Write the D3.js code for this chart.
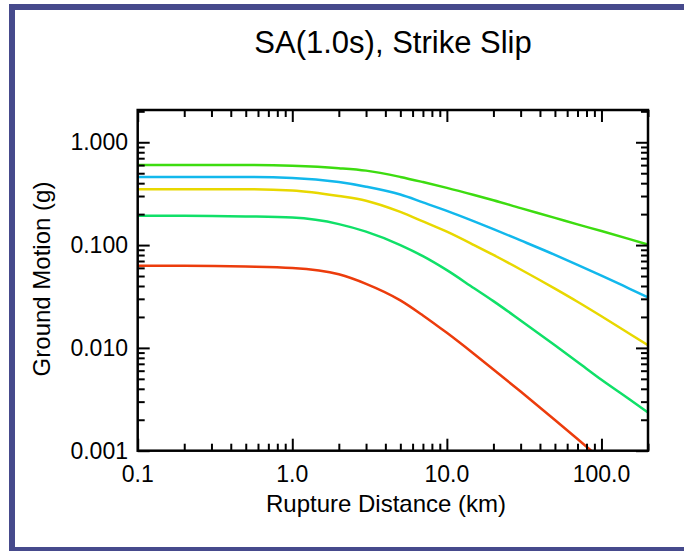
<!DOCTYPE html>
<html>
<head>
<meta charset="utf-8">
<script src="https://cdn.jsdelivr.net/npm/d3@7"></script>
<style>
  html, body { margin: 0; padding: 0; background: #fff; }
  svg { display: block; font-family: "Liberation Sans", Arial, sans-serif; }
</style>
</head>
<body>
<script>
// rupture distance (km), shared by every curve
var distances = [0.1, 0.2, 0.5, 1, 2, 3, 5, 7, 10, 15, 20, 30, 50, 70, 100, 150, 200];

// ground motion (g)
var limeValues   = [0.60, 0.60, 0.60, 0.59, 0.56, 0.53, 0.46, 0.41, 0.36, 0.307, 0.273, 0.229, 0.184, 0.159, 0.137, 0.115, 0.101];
var blueValues   = [0.46, 0.46, 0.46, 0.45, 0.41, 0.37, 0.31, 0.26, 0.215, 0.170, 0.143, 0.111, 0.0803, 0.0643, 0.0505, 0.038, 0.031];
var yellowValues = [0.35, 0.35, 0.35, 0.34, 0.30, 0.27, 0.21, 0.17, 0.135, 0.100, 0.0801, 0.0579, 0.0377, 0.0281, 0.0203, 0.0139, 0.0106];
var greenValues  = [0.193, 0.193, 0.19, 0.185, 0.16, 0.135, 0.10, 0.078, 0.057, 0.038, 0.0285, 0.0185, 0.0106, 0.0073, 0.0049, 0.0032, 0.00235];
var redValues    = [0.063, 0.063, 0.062, 0.060, 0.052, 0.042, 0.029, 0.0207, 0.0140, 0.00872, 0.00617, 0.00376, 0.00199, 0.0013, 0.00082, 0.00049, 0.00034];

var xTicks = [0.1, 1, 10, 100];
var xTickLabels = ["0.1", "1.0", "10.0", "100.0"];
var yTicks = [0.001, 0.01, 0.1, 1];
var yTickLabels = ["0.001", "0.010", "0.100", "1.000"];

var series = [
  {values: limeValues, color: "#3ddc10"},
  {values: blueValues, color: "#12b8ec"},
  {values: yellowValues, color: "#e8d800"},
  {values: greenValues, color: "#10e068"},
  {values: redValues, color: "#ec3c0c"}
];

var width = 684, height = 551;
// plot box (window.top is reserved, so prefixed names)
var plotLeft = 137.7, plotRight = 648, plotTop = 110, plotBottom = 450.7;

var svg = d3.select("body").append("svg")
    .attr("width", width)
    .attr("height", height);

// outer frame
svg.append("rect")
    .attr("x", 12).attr("y", 7)
    .attr("width", 700).attr("height", 543)
    .attr("fill", "#fff")
    .attr("stroke", "#464a8c")
    .attr("stroke-width", 6);

var x = d3.scaleLog().domain([0.1, 200]).range([plotLeft, plotRight]);
var y = d3.scaleLog().domain([0.001, 2.06]).range([plotBottom, plotTop]);

// minor ticks: 2..9 in every decade
function minors(lo, hi) {
  var out = [];
  for (var p = lo; p < hi; p *= 10) {
    for (var k = 2; k <= 9; k++) {
      out.push(+(p * k).toPrecision(6));
    }
  }
  return out.filter(function(d) { return d <= hi; });
}
var xMinor = minors(0.1, 200);
var yMinor = minors(0.001, 2.06);

svg.append("defs").append("clipPath").attr("id", "plot")
  .append("rect")
    .attr("x", plotLeft).attr("y", plotTop)
    .attr("width", plotRight - plotLeft).attr("height", plotBottom - plotTop);

var line = d3.line()
    .curve(d3.curveMonotoneX)
    .x(function(d, i) { return x(distances[i]); })
    .y(function(d) { return y(d); });

svg.append("g").attr("clip-path", "url(#plot)")
  .selectAll("path")
  .data(series)
  .enter().append("path")
    .attr("fill", "none")
    .attr("stroke", function(d) { return d.color; })
    .attr("stroke-width", 2.5)
    .attr("d", function(d) { return line(d.values); });

// ticks, pointing into the plot on all four sides
var tickStyle = function(g) {
  g.select(".domain").remove();
  g.selectAll(".tick line").attr("stroke", "#000").attr("stroke-width", 2);
  g.selectAll(".tick text").remove();
};

function addAxis(axisFn, scale, transform, major, minor) {
  svg.append("g").attr("transform", transform)
      .call(axisFn(scale).tickValues(major).tickSize(-12).tickFormat(""))
      .call(tickStyle);
  svg.append("g").attr("transform", transform)
      .call(axisFn(scale).tickValues(minor).tickSize(-7).tickFormat(""))
      .call(tickStyle);
}
addAxis(d3.axisBottom, x, "translate(0," + plotBottom + ")", xTicks, xMinor);
addAxis(d3.axisTop, x, "translate(0," + plotTop + ")", xTicks, xMinor);
addAxis(d3.axisLeft, y, "translate(" + plotLeft + ",0)", yTicks, yMinor);
addAxis(d3.axisRight, y, "translate(" + plotRight + ",0)", yTicks, yMinor);

svg.append("rect")
    .attr("x", plotLeft).attr("y", plotTop)
    .attr("width", plotRight - plotLeft).attr("height", plotBottom - plotTop)
    .attr("fill", "none")
    .attr("stroke", "#000")
    .attr("stroke-width", 2.5);

// tick labels
svg.append("g").selectAll("text")
  .data(xTicks)
  .enter().append("text")
    .attr("x", function(d) { return x(d); })
    .attr("y", 482)
    .attr("text-anchor", "middle")
    .attr("font-size", 23)
    .text(function(d, i) { return xTickLabels[i]; });

svg.append("g").selectAll("text")
  .data(yTicks)
  .enter().append("text")
    .attr("x", 128)
    .attr("y", function(d) { return y(d) + 8; })
    .attr("text-anchor", "end")
    .attr("font-size", 23)
    .text(function(d, i) { return yTickLabels[i]; });

// titles
svg.append("text")
    .attr("x", 393).attr("y", 53)
    .attr("text-anchor", "middle")
    .attr("font-size", 31)
    .text("SA(1.0s), Strike Slip");

svg.append("text")
    .attr("x", 386).attr("y", 512)
    .attr("text-anchor", "middle")
    .attr("font-size", 24)
    .text("Rupture Distance (km)");

svg.append("text")
    .attr("transform", "translate(50,279) rotate(-90)")
    .attr("text-anchor", "middle")
    .attr("font-size", 24)
    .text("Ground Motion (g)");
</script>
</body>
</html>
